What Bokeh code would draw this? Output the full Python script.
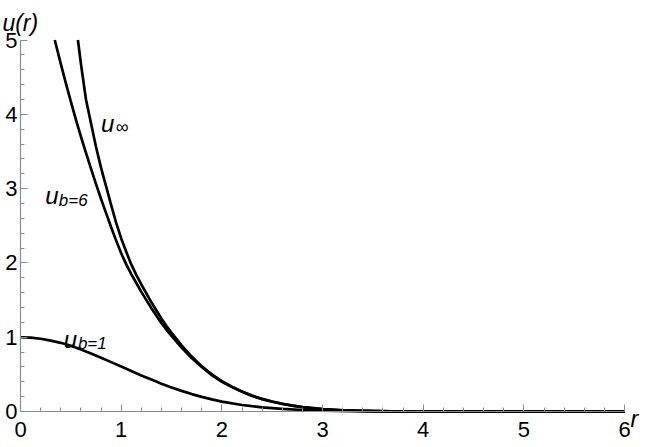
from bokeh.plotting import figure
from bokeh.models import Range1d, Label, FixedTicker
from bokeh.embed import file_html
from bokeh.resources import INLINE

# ---- data ----
r_inf = [0.57, 0.60, 0.65, 0.70, 0.75, 0.80, 0.85, 0.90, 0.95, 1.00, 1.05, 1.10, 1.15, 1.20,
         1.25, 1.30, 1.35, 1.40, 1.45, 1.50, 1.60, 1.70, 1.80, 1.90, 2.00, 2.10, 2.20, 2.30,
         2.40, 2.50, 2.60, 2.70, 2.80, 2.90, 3.00, 3.20, 3.40, 3.70, 4.00, 5.00, 6.00]
u_inf = [5.0, 4.68, 4.20, 3.88, 3.56, 3.28, 3.03, 2.78, 2.54, 2.33, 2.15, 1.98, 1.84, 1.71,
         1.59, 1.47, 1.36, 1.25, 1.15, 1.06, 0.89, 0.74, 0.61, 0.50, 0.41, 0.335, 0.27, 0.215,
         0.17, 0.135, 0.105, 0.08, 0.06, 0.045, 0.033, 0.017, 0.008, 0.003, 0.001, 0.0, 0.0]

r_b6 = [0.34, 0.40, 0.45, 0.50, 0.55, 0.60, 0.65, 0.70, 0.75, 0.80, 0.85, 0.90, 0.95, 1.00,
        1.05, 1.10, 1.15, 1.20, 1.25, 1.30, 1.35, 1.40, 1.45, 1.50, 1.60, 1.70, 1.80, 1.90,
        2.00, 2.10, 2.20, 2.30, 2.40, 2.50, 2.60, 2.70, 2.80, 2.90, 3.00, 3.20, 3.40, 3.70,
        4.00, 5.00, 6.00]
u_b6 = [5.0, 4.68, 4.42, 4.17, 3.93, 3.70, 3.48, 3.27, 3.06, 2.86, 2.67, 2.48, 2.30, 2.13,
        1.98, 1.85, 1.73, 1.61, 1.50, 1.39, 1.29, 1.19, 1.10, 1.02, 0.86, 0.72, 0.60, 0.49,
        0.40, 0.33, 0.265, 0.21, 0.167, 0.132, 0.103, 0.079, 0.06, 0.045, 0.033, 0.017, 0.008,
        0.003, 0.001, 0.0, 0.0]

r_b1 = [0.0, 0.1, 0.2, 0.3, 0.4, 0.5, 0.6, 0.7, 0.8, 0.9, 1.0, 1.1, 1.2, 1.3, 1.4, 1.5, 1.6,
        1.7, 1.8, 1.9, 2.0, 2.2, 2.4, 2.6, 2.8, 3.0, 3.3, 3.6, 4.0, 5.0, 6.0]
u_b1 = [1.0, 0.995, 0.98, 0.955, 0.925, 0.885, 0.835, 0.78, 0.725, 0.665, 0.605, 0.545, 0.485,
        0.43, 0.375, 0.325, 0.278, 0.235, 0.197, 0.163, 0.134, 0.088, 0.056, 0.035, 0.021,
        0.012, 0.005, 0.002, 0.0, 0.0, 0.0]

x_ticks = [0, 1, 2, 3, 4, 5, 6]
y_ticks = [0, 1, 2, 3, 4, 5]

FONT = "Liberation Sans"

p = figure(width=647, height=445, output_backend="svg", toolbar_location=None,
           x_range=Range1d(-0.199, 6.228), y_range=Range1d(-0.457, 5.532),
           min_border_left=0, min_border_right=0, min_border_top=0, min_border_bottom=0)
p.outline_line_color = None
p.grid.visible = False

minor_x = [i * 0.2 for i in range(31) if i % 5 != 0]
minor_y = [i * 0.2 for i in range(26) if i % 5 != 0]
p.xaxis.ticker = FixedTicker(ticks=x_ticks, minor_ticks=minor_x)
p.yaxis.ticker = FixedTicker(ticks=y_ticks, minor_ticks=minor_y)
p.xaxis.bounds = (0, 6)
p.yaxis.bounds = (0, 5)
p.xaxis.fixed_location = 0
p.yaxis.fixed_location = 0
for ax in (p.xaxis, p.yaxis):
    ax.axis_line_color = "#8c8c8c"
    ax.axis_line_width = 1.2
    ax.major_tick_line_color = "#8c8c8c"
    ax.minor_tick_line_color = "#8c8c8c"
    ax.major_tick_in = 7
    ax.major_tick_out = 0
    ax.minor_tick_in = 4
    ax.minor_tick_out = 0
    ax.major_label_text_font = FONT
    ax.major_label_text_font_size = "22px"
    ax.major_label_text_color = "black"
p.xaxis.major_label_standoff = 10
p.yaxis.major_label_standoff = 3

for xs, ys in ((r_inf, u_inf), (r_b6, u_b6), (r_b1, u_b1)):
    p.line(xs, ys, line_color="black", line_width=2.7, line_join="round")

def lab(x, y, t, size, italic=True):
    p.add_layout(Label(x=x, y=y, text=t, text_font=FONT, text_font_size=size,
                       text_font_style="italic" if italic else "normal",
                       text_baseline="alphabetic", text_color="black"))

lab(-0.18, 5.226, "u(r)", "23px")
lab(6.06, -0.094, "r", "23px")
lab(0.80, 3.87, "u", "24px")
lab(0.945, 3.83, "\u221e", "18px", italic=False)
lab(0.245, 2.905, "u", "24px")
lab(0.38, 2.84, "b=6", "17px")
lab(0.43, 0.975, "u", "24px")
lab(0.57, 0.92, "b=1", "17px")

open("out.html", "w").write(file_html(p, INLINE))
